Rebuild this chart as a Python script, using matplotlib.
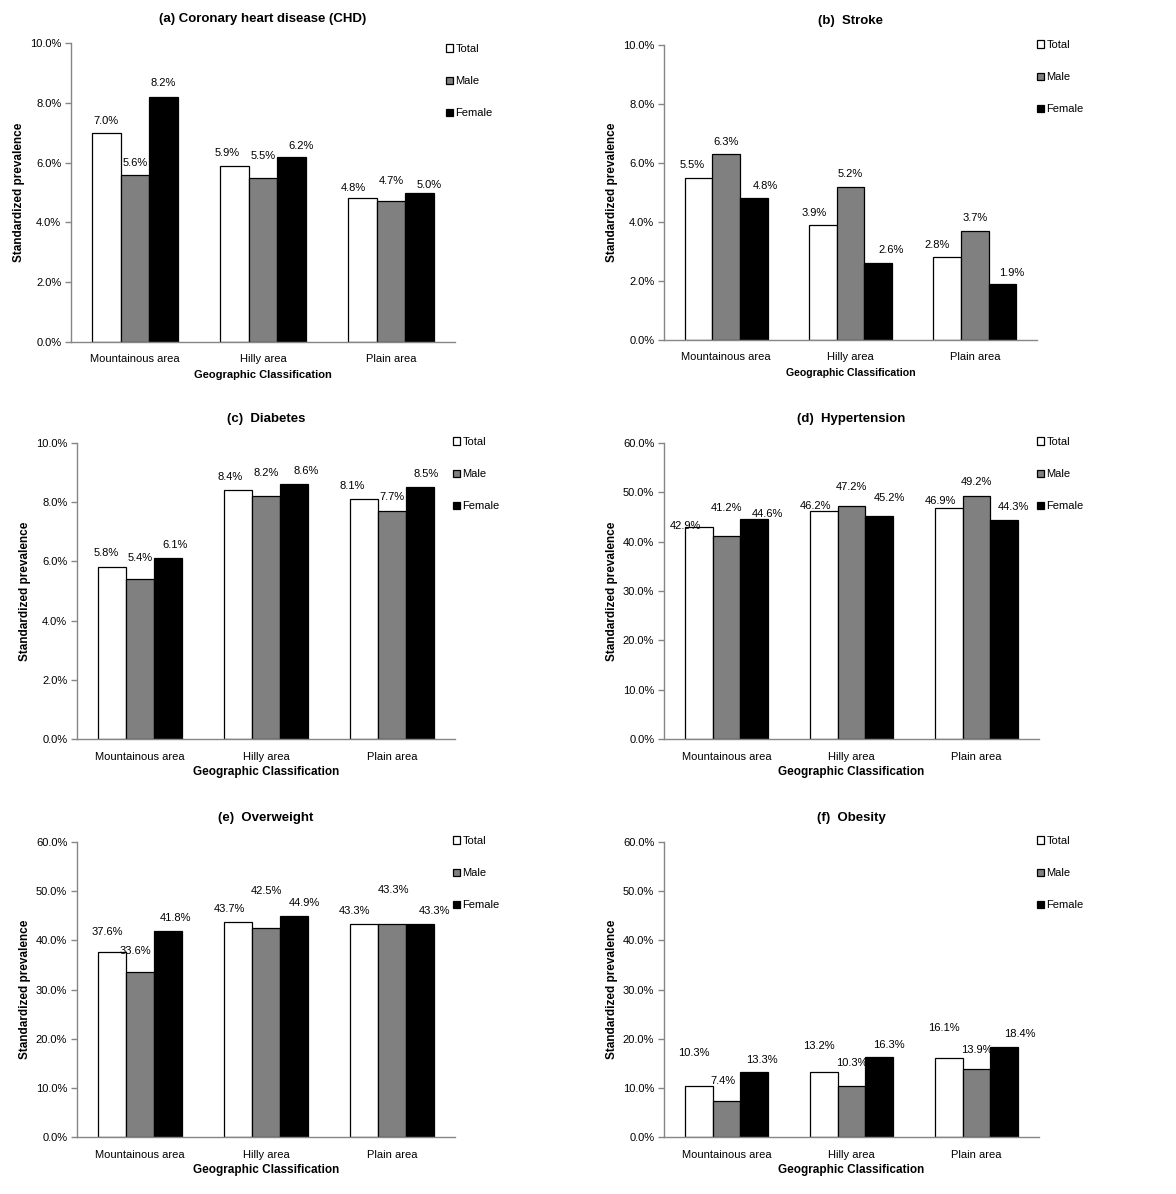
import matplotlib
matplotlib.use("Agg")
import matplotlib.pyplot as plt
from matplotlib.ticker import FuncFormatter, MultipleLocator
import numpy as np

plt.rcParams['font.family'] = ['Liberation Sans', 'DejaVu Sans']

# data (percent)
categories = ["Mountainous area", "Hilly area", "Plain area"]
series_names = ["Total", "Male", "Female"]

chd_total = [7.0, 5.9, 4.8]
chd_male = [5.6, 5.5, 4.7]
chd_female = [8.2, 6.2, 5.0]

stroke_total = [5.5, 3.9, 2.8]
stroke_male = [6.3, 5.2, 3.7]
stroke_female = [4.8, 2.6, 1.9]

diabetes_total = [5.8, 8.4, 8.1]
diabetes_male = [5.4, 8.2, 7.7]
diabetes_female = [6.1, 8.6, 8.5]

hyper_total = [42.9, 46.2, 46.9]
hyper_male = [41.2, 47.2, 49.2]
hyper_female = [44.6, 45.2, 44.3]

over_total = [37.6, 43.7, 43.3]
over_male = [33.6, 42.5, 43.3]
over_female = [41.8, 44.9, 43.3]

obes_total = [10.3, 13.2, 16.1]
obes_male = [7.4, 10.3, 13.9]
obes_female = [13.3, 16.3, 18.4]

titles = ["(a) Coronary heart disease (CHD)", "(b)  Stroke", "(c)  Diabetes",
          "(d)  Hypertension", "(e)  Overweight", "(f)  Obesity"]

W, H = 1176, 1194
colors = ["white", "#808080", "black"]
axis_grey = "#868686"

# panel layout in pixels: left, right, top, bottom, y max, y step, legend x, legend first row y
panels = [
    dict(box=(71, 455, 43, 342), ymax=10, step=2, leg=(446, 50), xl_size=8.0),
    dict(box=(664, 1037, 45, 340), ymax=10, step=2, leg=(1037, 46), xl_size=7.6),
    dict(box=(77, 455, 443, 739), ymax=10, step=2, leg=(453, 443), xl_size=8.5),
    dict(box=(664, 1039, 443, 739), ymax=60, step=10, leg=(1037, 443), xl_size=8.5),
    dict(box=(77, 455, 842, 1137), ymax=60, step=10, leg=(453, 842), xl_size=8.5),
    dict(box=(664, 1039, 842, 1137), ymax=60, step=10, leg=(1037, 842), xl_size=8.5),
]

values = [
    (chd_total, chd_male, chd_female),
    (stroke_total, stroke_male, stroke_female),
    (diabetes_total, diabetes_male, diabetes_female),
    (hyper_total, hyper_male, hyper_female),
    (over_total, over_male, over_female),
    (obes_total, obes_male, obes_female),
]

# data label nudges in pixels (rows = category, cols = series), as placed in the original
label_dx = [
    [[0, 0, 0], [-7, 0, 10], [-9, 0, 10]],
    [[-6, 0, 11], [-9, 0, 13], [-10, 0, 9]],
    [[-6, 0, 7], [-8, 0, 12], [-12, 0, 6]],
    [[-13, 0, 13], [-8, 0, 10], [-8, 0, 9]],
    [[-5, -5, 7], [-8, 0, 10], [-9, 1, 14]],
    [[-5, -4, 8], [-5, 0, 10], [-5, 0, 15]],
]
label_dy = [
    [[12, 12, 14], [13, 22, 11], [10, 20, 8]],
    [[13, 12, 12], [12, 13, 13], [12, 13, 11]],
    [[14, 21, 13], [13, 23, 13], [13, 14, 13]],
    [[1, 28, 5], [5, 19, 18], [7, 14, 13]],
    [[20, 21, 13], [13, 37, 13], [13, 34, 13]],
    [[33, 20, 12], [26, 23, 12], [30, 19, 13]],
]

fig = plt.figure(figsize=(W / 100, H / 100), dpi=100)

bar_w = 0.223
x = np.arange(len(categories))

for k, p in enumerate(panels):
    l, r, t, b = p['box']
    ax = fig.add_axes([l / W, 1 - b / H, (r - l) / W, (b - t) / H])

    handles = []
    for s, vals in enumerate(values[k]):
        bars = ax.bar(x + (s - 1) * bar_w, vals, bar_w, color=colors[s],
                      edgecolor="black", linewidth=0.9, label=series_names[s])
        handles.append(bars)
        for i, v in enumerate(vals):
            ax.annotate(f"{v:.1f}%", (x[i] + (s - 1) * bar_w, v),
                        xytext=(label_dx[k][i][s], label_dy[k][i][s]),
                        textcoords='offset pixels', ha='center', va='center',
                        fontsize=8)

    ax.set_xlim(-0.5, 2.5)
    ax.set_ylim(0, p['ymax'])
    ax.yaxis.set_major_locator(MultipleLocator(p['step']))
    ax.yaxis.set_major_formatter(FuncFormatter(lambda v, pos: f"{v:.1f}%"))
    ax.set_xticks(x)
    ax.set_xticklabels(categories)
    ax.tick_params(axis='x', length=0, labelsize=8, pad=9)
    ax.tick_params(axis='y', length=4, width=1, color=axis_grey, labelsize=8, pad=3)
    for side in ['top', 'right']:
        ax.spines[side].set_visible(False)
    for side in ['left', 'bottom']:
        ax.spines[side].set_color(axis_grey)
        ax.spines[side].set_linewidth(1)
    ax.set_facecolor('white')

    # title, axis labels
    ax.annotate(titles[k], (0.5, 1), xycoords='axes fraction', xytext=(0, 24),
                textcoords='offset pixels', ha='center', va='center',
                fontsize=9.5, fontweight='bold')
    ax.annotate("Standardized prevalence", (0, 0.5), xycoords='axes fraction',
                xytext=(-52, 0), textcoords='offset pixels', ha='center',
                va='center', rotation=90, fontsize=8.5, fontweight='bold')
    ax.annotate("Geographic Classification", (0.5, 0), xycoords='axes fraction',
                xytext=(0, -33), textcoords='offset pixels', ha='center',
                va='center', fontsize=p['xl_size'], fontweight='bold')

    lx, ly = p['leg']
    ax.legend(handles=handles, labels=series_names, loc='upper left',
              bbox_to_anchor=(lx / W, 1 - (ly - 6) / H),
              bbox_transform=fig.transFigure, frameon=False, fontsize=8,
              handlelength=0.65, handleheight=0.65, handletextpad=0.2,
              labelspacing=2.0, borderpad=0, borderaxespad=0)

fig.savefig("out.png", dpi=100, facecolor='white')
